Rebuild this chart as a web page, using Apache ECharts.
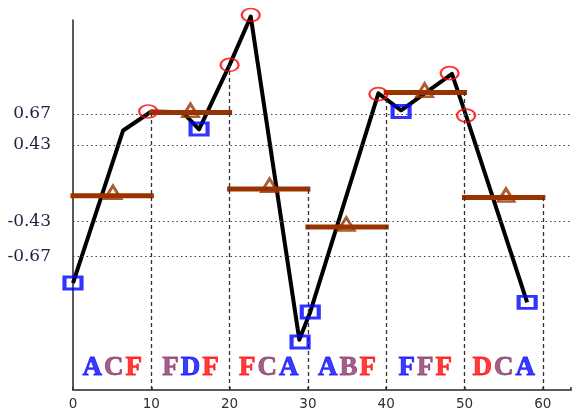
<!DOCTYPE html>
<html>
<head>
<meta charset="utf-8">
<script src="https://cdn.jsdelivr.net/npm/echarts@6/dist/echarts.min.js"></script>
<style>html,body{margin:0;padding:0;background:#fff;}#c{width:574px;height:415px;}</style>
</head>
<body>
<div id="c"></div>
<script>
// ---- data ----
const lineX = [0, 6.4, 10.0, 14.0, 16.1, 20.0, 22.7, 28.9, 30.3, 39.0, 41.9, 48.4, 50.2, 58.0];
const lineY = [-0.917, 0.514, 0.692, 0.686, 0.525, 1.129, 1.582, -1.448, -1.188, 0.862, 0.703, 1.045, 0.654, -1.098];

const circleX = [9.6, 20.0, 22.7, 39.0, 48.1, 50.2];
const circleY = [0.692, 1.129, 1.597, 0.855, 1.051, 0.654];

const squareX = [0.0, 16.1, 29.0, 30.3, 41.9, 58.0];
const squareY = [-0.917, 0.527, -1.470, -1.188, 0.692, -1.098];

const triX = [5.1, 15.0, 25.1, 34.9, 44.9, 55.3];
const triY = [-0.066, 0.703, 0.0, -0.363, 0.892, -0.092];

const segStart = [0, 10, 20, 30, 40, 50];
const segEnd = [10, 20, 30, 40, 50, 60];
const segY = [-0.098, 0.682, -0.036, -0.392, 0.870, -0.114];

const boundaryX = [10, 20, 30, 40, 50, 60];
const boundaryTop = [0.69, 1.129, -0.036, 0.80, 0.870, -0.114];

const yTickLabels = ['0.67', '0.43', '-0.43', '-0.67'];
const yTickPos = [0.670, 0.377, -0.339, -0.673];

const categories = ['ACF', 'FDF', 'FCA', 'ABF', 'FFF', 'DCA'];
const categoryX = [5, 15, 25, 35, 45, 55];
const categoryColors = ['bmr', 'mbr', 'rmb', 'bmr', 'bmr', 'rmb'];
const categoryLabelY = -1.71;

const xMin = 0, xMax = 63.6, xInterval = 10;
const yMin = -1.92, yMax = 1.55;

// ---- chart ----
const chart = echarts.init(document.getElementById('c'), null, {renderer: 'canvas'});

const letterFont = {fontFamily: 'Liberation Serif', fontWeight: 700, fontSize: 27, padding: [0, 1, 0, 1], textBorderWidth: 0.9};
const letterColors = {b: '#0a0aff', m: '#8b3a6c', r: '#ff0a0a'};

const option = {
  animation: false,
  backgroundColor: '#ffffff',
  grid: {left: 73, right: 0, top: 20, bottom: 25, containLabel: false},
  xAxis: {
    type: 'value', min: xMin, max: xMax, interval: xInterval,
    axisLine: {show: true, onZero: false, lineStyle: {color: '#5a5a5a', width: 2}},
    axisTick: {show: true, inside: true, length: 3, lineStyle: {color: '#333', width: 1.5}},
    splitLine: {show: false},
    axisLabel: {
      margin: 7, color: '#2d2d3c', fontFamily: 'DejaVu Sans', fontSize: 13.5,
      formatter: v => (Math.abs(v % 10) < 1e-9 && v <= 60) ? String(v) : ''
    }
  },
  yAxis: {
    type: 'value', min: yMin, max: yMax,
    axisLine: {show: true, onZero: false, lineStyle: {color: '#222', width: 1.5}},
    axisTick: {show: false},
    axisLabel: {show: false},
    splitLine: {show: false}
  },
  series: [
    {
      name: 'grid', type: 'line', data: [], silent: true, z: 1,
      markLine: {
        silent: true, symbol: 'none', animation: false,
        lineStyle: {color: '#444', type: [1.5, 3], width: 1.2},
        label: {
          show: true, position: 'start', distance: 22,
          fontFamily: 'DejaVu Serif', fontSize: 17, color: '#1e2040',
          formatter: p => yTickLabels[p.dataIndex]
        },
        data: yTickPos.map(v => ({yAxis: v}))
      }
    },
    {
      name: 'bounds', type: 'line', data: [], silent: true, z: 1,
      markLine: {
        silent: true, symbol: 'none', animation: false,
        lineStyle: {color: '#333', type: [4, 3], width: 1.3},
        label: {show: false},
        data: boundaryX.map((x, i) => [{coord: [x, yMin]}, {coord: [x, boundaryTop[i]]}])
      }
    },
    {
      name: 'profile', type: 'line', z: 2, clip: false,
      data: lineX.map((x, i) => [x, lineY[i]]),
      showSymbol: false, symbol: 'none',
      lineStyle: {color: '#000', width: 4, join: 'round'}
    },
    {
      name: 'means', type: 'custom', z: 3, clip: false,
      data: segStart.map((s, i) => [s, segEnd[i], segY[i]]),
      encode: {x: [0, 1], y: 2},
      renderItem: (params, api) => {
        const a = api.coord([api.value(0), api.value(2)]);
        const b = api.coord([api.value(1), api.value(2)]);
        return {
          type: 'line',
          shape: {x1: a[0], y1: a[1], x2: b[0], y2: b[1]},
          style: {stroke: '#993300', lineWidth: 5, lineCap: 'square'}
        };
      }
    },
    {
      name: 'triangles', type: 'scatter', z: 4, clip: false,
      data: triX.map((x, i) => [x, triY[i]]),
      symbol: 'triangle', symbolSize: [16, 13],
      itemStyle: {color: 'rgba(255,255,255,0)', borderColor: '#993300', borderWidth: 2.8}
    },
    {
      name: 'squares', type: 'scatter', z: 5, clip: false,
      data: squareX.map((x, i) => [x, squareY[i]]),
      symbol: 'rect', symbolSize: [17, 12],
      itemStyle: {color: 'rgba(255,255,255,0)', borderColor: '#0000ff', borderWidth: 3.5}
    },
    {
      name: 'circles', type: 'scatter', z: 6, clip: false,
      data: circleX.map((x, i) => [x, circleY[i]]),
      symbol: 'circle', symbolSize: [18, 13],
      itemStyle: {color: 'rgba(255,255,255,0)', borderColor: '#ff0000', borderWidth: 2}
    },
    {
      name: 'categories', type: 'scatter', z: 7, clip: false, silent: true,
      data: categories.map((c, i) => [categoryX[i], categoryLabelY, c, categoryColors[i]]),
      symbolSize: 0,
      label: {
        show: true, position: 'inside',
        fontFamily: 'Liberation Serif', fontWeight: 700, fontSize: 27,
        formatter: p => {
          const txt = p.data[2], codes = p.data[3];
          return txt.split('').map((ch, k) => '{' + codes[k] + '|' + ch + '}').join('');
        },
        rich: {
          b: Object.assign({color: letterColors.b, textBorderColor: letterColors.b}, letterFont),
          m: Object.assign({color: letterColors.m, textBorderColor: letterColors.m}, letterFont),
          r: Object.assign({color: letterColors.r, textBorderColor: letterColors.r}, letterFont)
        }
      }
    }
  ]
};
chart.setOption(option);
</script>
</body>
</html>
